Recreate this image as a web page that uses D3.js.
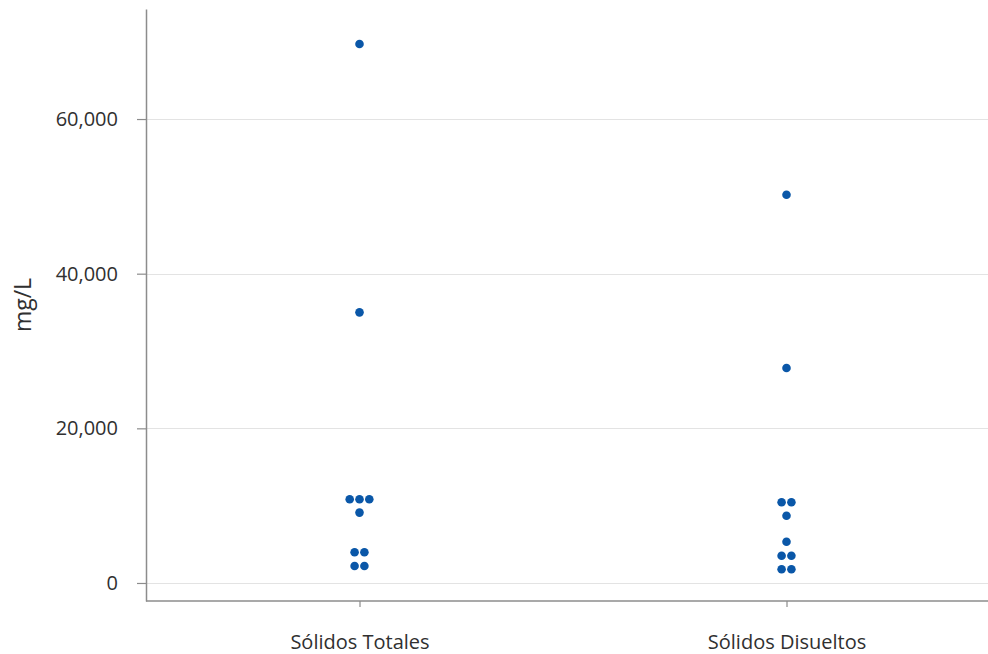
<!DOCTYPE html>
<html>
<head>
<meta charset="utf-8">
<script src="https://cdn.jsdelivr.net/npm/d3@7"></script>
<style>
  html, body { margin: 0; padding: 0; background: #fff; }
  svg { display: block; }
</style>
</head>
<body>
<svg id="chart" width="988" height="654"></svg>
<script>
// Individual value plot of solids concentration (mg/L)
const categories = ["Sólidos Totales", "Sólidos Disueltos"];
const totalesValues = [69700, 35000, 10820, 10820, 10820, 9100, 3970, 3970, 2200, 2200];
const disueltosValues = [50200, 27800, 10440, 10440, 8700, 5340, 3530, 3530, 1780, 1780];
const yTicks = [0, 20000, 40000, 60000];
const yLabel = "mg/L";

const series = [
  { category: categories[0], values: totalesValues },
  { category: categories[1], values: disueltosValues }
];

const fontFamily = '"Open Sans", "Noto Sans", sans-serif';
const svg = d3.select("#chart").style("font-family", fontFamily);
const margin = { left: 146, top: 9, bottom: 601 };

const x = d3.scalePoint()
  .domain(categories)
  .range([margin.left, margin.left + 854])
  .padding(0.5);

const y = d3.scaleLinear()
  .domain([-2330, 74230])
  .range([margin.bottom, margin.top]);

const gridColor = "#e3e3e3";
const axisColor = "#8c8c8c";
const textColor = "#303030";
const dotColor = "#0a57a8";

// horizontal gridlines
svg.append("g")
  .selectAll("line")
  .data(yTicks)
  .join("line")
  .attr("x1", margin.left)
  .attr("x2", 988)
  .attr("y1", d => Math.round(y(d)) + 0.5)
  .attr("y2", d => Math.round(y(d)) + 0.5)
  .attr("stroke", gridColor)
  .attr("stroke-width", 1);

// y axis
const yAxis = svg.append("g")
  .attr("transform", `translate(${margin.left},0)`)
  .call(d3.axisLeft(y).tickValues(yTicks).tickFormat(d3.format(",")).tickSize(9).tickPadding(19).tickSizeOuter(0))
  .attr("font-family", fontFamily);
yAxis.select(".domain").attr("stroke", axisColor).attr("stroke-width", 1.5);
yAxis.selectAll(".tick line").attr("stroke", axisColor).attr("stroke-width", 1.2);
yAxis.selectAll(".tick text")
  .attr("fill", textColor)
  .style("font-size", "20px");

// x axis
const xAxis = svg.append("g")
  .attr("transform", `translate(0,${margin.bottom})`)
  .call(d3.axisBottom(x).tickSize(6).tickPadding(28).tickSizeOuter(0))
  .attr("font-family", fontFamily);
xAxis.select(".domain").attr("stroke", axisColor).attr("stroke-width", 1.5)
  .attr("d", `M${margin.left},0H988`);
xAxis.selectAll(".tick line").attr("stroke", axisColor).attr("stroke-width", 1.2);
xAxis.selectAll(".tick text")
  .attr("fill", textColor)
  .style("font-size", "20px");

// y axis title
svg.append("text")
  .attr("transform", `translate(31,${(margin.top + margin.bottom) / 2}) rotate(-90)`)
  .attr("text-anchor", "middle")
  .attr("fill", textColor)
  .style("font-size", "23px")
  .text(yLabel);

// dots: equal values in a category are spread side by side
const dotR = 4.3;
const dotStep = 9.8;
const points = [];
series.forEach(s => {
  const groups = d3.group(s.values, v => v);
  groups.forEach((vals, v) => {
    vals.forEach((_, i) => {
      points.push({
        category: s.category,
        value: v,
        offset: (i - (vals.length - 1) / 2) * dotStep
      });
    });
  });
});

svg.append("g")
  .selectAll("circle")
  .data(points)
  .join("circle")
  .attr("cx", d => x(d.category) + d.offset)
  .attr("cy", d => y(d.value))
  .attr("r", dotR)
  .attr("fill", dotColor);
</script>
</body>
</html>
